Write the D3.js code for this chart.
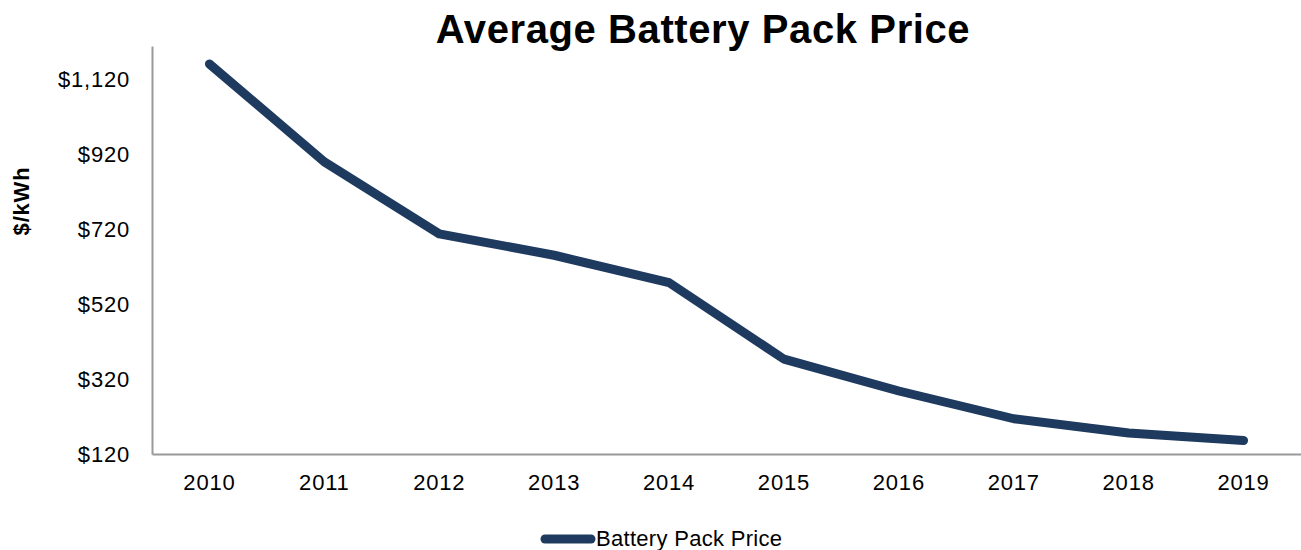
<!DOCTYPE html>
<html>
<head>
<meta charset="utf-8">
<script src="https://cdn.jsdelivr.net/npm/d3@7"></script>
<style>
  body { margin: 0; background: #fff; }
  text { font-family: "Liberation Sans", Arial, sans-serif; }
</style>
</head>
<body>
<script>
// data
const years = ["2010", "2011", "2012", "2013", "2014", "2015", "2016", "2017", "2018", "2019"];
const prices = [1160, 899, 707, 650, 577, 373, 288, 214, 176, 156];
const yTicks = [120, 320, 520, 720, 920, 1120];

const width = 1301, height = 550;
const plotLeft = 152, plotRight = 1301, plotTop = 46, plotBottom = 454;
const lineColor = "#1f3a5f";

const svg = d3.select("body").append("svg")
  .attr("width", width)
  .attr("height", height);

const x = d3.scaleBand().domain(years).range([plotLeft, plotRight]);
const y = d3.scaleLinear().domain([120, 1208]).range([plotBottom, plotTop]);

// title
svg.append("text")
  .attr("x", 703)
  .attr("y", 43)
  .attr("text-anchor", "middle")
  .style("font-size", "40px")
  .style("letter-spacing", "0.6px")
  .style("font-weight", "bold")
  .text("Average Battery Pack Price");

// y axis
const yAxis = svg.append("g")
  .attr("transform", `translate(${plotLeft},0)`)
  .call(d3.axisLeft(y).tickValues(yTicks).tickSize(0).tickPadding(22)
    .tickFormat(d => "$" + d3.format(",")(d)));
yAxis.select(".domain").attr("stroke", "#999").attr("stroke-width", 2);
yAxis.selectAll("text").style("font-size", "22px").style("letter-spacing", "0.8px").attr("fill", "#000")
  .style("font-family", "'Liberation Sans', Arial, sans-serif");

// x axis
const xAxis = svg.append("g")
  .attr("transform", `translate(0,${plotBottom})`)
  .call(d3.axisBottom(x).tickSize(0).tickPadding(20));
xAxis.select(".domain").attr("stroke", "#999").attr("stroke-width", 2);
xAxis.selectAll("text").style("font-size", "22px").style("letter-spacing", "0.8px").attr("fill", "#000")
  .style("font-family", "'Liberation Sans', Arial, sans-serif");

// y label
svg.append("text")
  .attr("transform", "translate(29,201) rotate(-90)")
  .attr("text-anchor", "middle")
  .style("font-size", "22px")
  .style("letter-spacing", "0.8px")
  .style("font-weight", "bold")
  .text("$/kWh");

// line
const line = d3.line()
  .x((d, i) => x(years[i]) + x.bandwidth() / 2)
  .y(d => y(d));

svg.append("path")
  .datum(prices)
  .attr("d", line)
  .attr("fill", "none")
  .attr("stroke", lineColor)
  .attr("stroke-width", 9)
  .attr("stroke-linecap", "round")
  .attr("stroke-linejoin", "round");

// legend
const lg = svg.append("g").attr("transform", "translate(545,539)");
lg.append("line")
  .attr("x1", 0).attr("x2", 46)
  .attr("stroke", lineColor)
  .attr("stroke-width", 9)
  .attr("stroke-linecap", "round");
lg.append("text")
  .attr("x", 51)
  .attr("y", 7)
  .style("font-size", "22px")
  .style("letter-spacing", "0.3px")
  .text("Battery Pack Price");
</script>
</body>
</html>
